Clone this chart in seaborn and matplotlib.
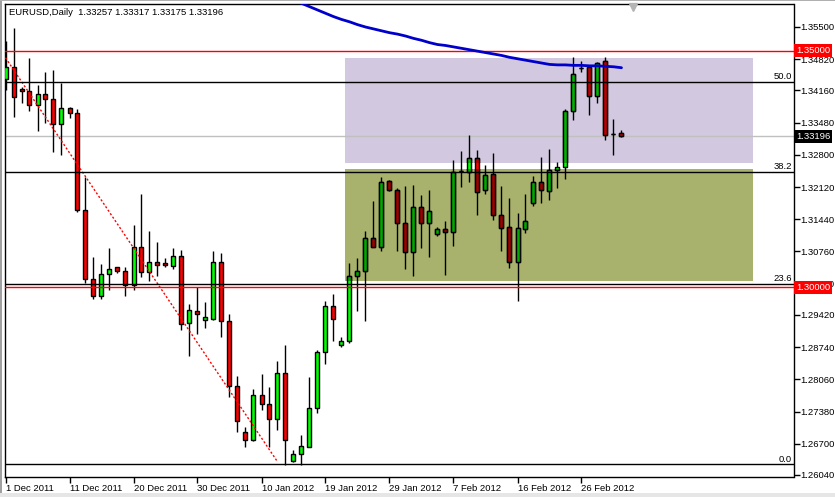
import matplotlib
matplotlib.use("Agg")

import matplotlib.pyplot as plt
import numpy as np
import pandas as pd
import seaborn as sns
from matplotlib.patches import Rectangle


TITLE = "EURUSD,Daily  1.33257 1.33317 1.33175 1.33196"

# daily EURUSD candles, one entry per bar (Sunday bars included)
OPEN = [1.3440, 1.3465, 1.3419, 1.3414, 1.3385, 1.3408, 1.3397, 1.3345, 1.3380, 1.3368,
        1.3163, 1.3017, 1.2983, 1.3028, 1.3043, 1.3034, 1.3005, 1.3085, 1.3033, 1.3053,
        1.3052, 1.3046, 1.3066, 1.2924, 1.2950, 1.2932, 1.2934, 1.3053, 1.2929, 1.2791,
        1.2694, 1.2677, 1.2772, 1.2753, 1.2722, 1.2819, 1.2634, 1.2648, 1.2664, 1.2745,
        1.2863, 1.2960, 1.2878, 1.2886, 1.3024, 1.3034, 1.3104, 1.3086, 1.3224, 1.3205,
        1.3136, 1.3074, 1.3169, 1.3136, 1.3112, 1.3123, 1.3117, 1.3245, 1.3244, 1.3273,
        1.3206, 1.3240, 1.3152, 1.3127, 1.3053, 1.3124, 1.3179, 1.3222, 1.3204, 1.3247,
        1.3254, 1.3372, 1.3464, 1.3465, 1.3405, 1.3478, 1.3325, 1.33257]
HIGH = [1.3520, 1.3547, 1.3424, 1.3485, 1.3428, 1.3454, 1.3460, 1.3432, 1.3381, 1.3376,
        1.3234, 1.3064, 1.3049, 1.3083, 1.3044, 1.3043, 1.3132, 1.3197, 1.3119, 1.3096,
        1.3062, 1.3083, 1.3079, 1.2965, 1.3000, 1.2969, 1.3077, 1.3073, 1.2944, 1.2813,
        1.2706, 1.2786, 1.2817, 1.2790, 1.2845, 1.2879, 1.2657, 1.2688, 1.2810, 1.2868,
        1.2971, 1.2986, 1.2895, 1.3051, 1.3063, 1.3119, 1.3183, 1.3233, 1.3227, 1.3209,
        1.3214, 1.3216, 1.3195, 1.3206, 1.3128, 1.3140, 1.3269, 1.3288, 1.3322, 1.3290,
        1.3259, 1.3284, 1.3215, 1.3189, 1.3158, 1.3197, 1.3235, 1.3276, 1.3292, 1.3265,
        1.3376, 1.3486, 1.3478, 1.3466, 1.3477, 1.3486, 1.3356, 1.33317]
LOW = [1.3417, 1.3361, 1.3389, 1.3373, 1.3330, 1.3348, 1.3287, 1.3280, 1.3357, 1.3159,
       1.3009, 1.2976, 1.2976, 1.2994, 1.3030, 1.2981, 1.2994, 1.3023, 1.3014, 1.3025,
       1.3043, 1.3040, 1.2910, 1.2856, 1.2902, 1.2915, 1.2932, 1.2896, 1.2769, 1.2695,
       1.2664, 1.2676, 1.2741, 1.2663, 1.2698, 1.2625, 1.2632, 1.2625, 1.2663, 1.2734,
       1.2838, 1.2886, 1.2875, 1.2882, 1.2951, 1.2930, 1.3085, 1.3076, 1.3204, 1.3076,
       1.3040, 1.3025, 1.3084, 1.3065, 1.3109, 1.3027, 1.3088, 1.3213, 1.3223, 1.3153,
       1.3197, 1.3142, 1.3078, 1.3042, 1.2971, 1.3114, 1.3171, 1.3179, 1.3185, 1.3209,
       1.3230, 1.3354, 1.3454, 1.3365, 1.3389, 1.3311, 1.3280, 1.33175]
CLOSE = [1.3466, 1.3402, 1.3414, 1.3385, 1.3408, 1.3397, 1.3345, 1.3380, 1.3368, 1.3163,
         1.3017, 1.2983, 1.3028, 1.3040, 1.3034, 1.3005, 1.3085, 1.3033, 1.3053, 1.3048,
         1.3047, 1.3066, 1.2922, 1.2952, 1.2945, 1.2938, 1.3053, 1.2929, 1.2791, 1.2717,
         1.2677, 1.2772, 1.2753, 1.2722, 1.2819, 1.2677, 1.2648, 1.2665, 1.2745, 1.2863,
         1.2960, 1.2933, 1.2886, 1.3024, 1.3034, 1.3104, 1.3086, 1.3222, 1.3205, 1.3136,
         1.3074, 1.3169, 1.3136, 1.3161, 1.3123, 1.3117, 1.3244, 1.3245, 1.3273, 1.3201,
         1.3237, 1.3152, 1.3126, 1.3053, 1.3126, 1.3140, 1.3222, 1.3205, 1.3247, 1.3254,
         1.3373, 1.3450, 1.3464, 1.3405, 1.3475, 1.3323, 1.3325, 1.33196]

# moving average, starts at bar 36 (above the visible range there)
MA_START = 36
MA = [1.3607, 1.3600, 1.3593, 1.3586, 1.3579, 1.3572, 1.3566, 1.3561, 1.3555, 1.3550,
      1.3546, 1.3542, 1.3538, 1.3535, 1.3531, 1.3526, 1.3522, 1.3517, 1.3513, 1.3511,
      1.3508, 1.3505, 1.3502, 1.3499, 1.3496, 1.3493, 1.3490, 1.3486, 1.3483, 1.3480,
      1.3477, 1.3474, 1.3471, 1.3470, 1.3470, 1.3469, 1.3469, 1.3468, 1.3468, 1.3467,
      1.3466, 1.3464]

# fibonacci retracement
FIB_LOW = 1.26266
FIB_HIGH = 1.42420
FIB_LEVELS = [0.0, 23.6, 38.2, 50.0]
TREND_BARS = [0, 34]
TREND_PRICES = [1.3485, 1.2632]

# rectangles: (left bar, right bar, low price, high price)
ZONE_UPPER = (42.4, 93.4, 1.32628, 1.34845)
ZONE_LOWER = (42.5, 93.4, 1.30137, 1.32502)

RED_LEVELS = [1.35000, 1.30000]
BID = 1.33196

PRICE_TICKS = [1.35500, 1.34820, 1.34160, 1.33480, 1.32800, 1.32120, 1.31440, 1.30760,
               1.30080, 1.29420, 1.28740, 1.28060, 1.27380, 1.26700, 1.26040]
DATE_BARS = [0, 8, 16, 24, 32, 40, 48, 56, 64, 72]
DATE_LABELS = ["1 Dec 2011", "11 Dec 2011", "20 Dec 2011", "30 Dec 2011", "10 Jan 2012",
               "19 Jan 2012", "29 Jan 2012", "7 Feb 2012", "16 Feb 2012", "26 Feb 2012"]

W, H = 835, 497


def draw_bodies(ax, df, bull, bear, zorder, clip=None):
    colors = np.where(df["close"] > df["open"], bull, bear)
    bars = ax.bar(
        df["bar"],
        df["top"] - df["bottom"],
        bottom=df["bottom"],
        width=0.5,
        color=colors,
        edgecolor="black",
        linewidth=1,
        zorder=zorder,
    )
    if clip is not None:
        for p in bars.patches:
            p.set_clip_path(clip)


def main():
    sns.set_style("white")
    plt.rcParams["font.family"] = ["Liberation Sans", "DejaVu Sans"]
    plt.rcParams["font.size"] = 6.8

    df = pd.DataFrame({"open": OPEN, "high": HIGH, "low": LOW, "close": CLOSE})
    df["bar"] = np.arange(len(df))
    df["top"] = df[["open", "close"]].max(axis=1)
    df["bottom"] = df[["open", "close"]].min(axis=1)

    fig = plt.figure(figsize=(W / 100, H / 100), dpi=100)
    ax = fig.add_axes([4.5 / W, 20 / H, 789 / W, 473 / H])

    k = 0.0946 / 448
    ax.set_ylim(1.355 - 450 * k, 1.355 + 23 * k)
    ax.set_xlim(-0.125, 98.5)

    # rectangles in the background
    rects = []
    for (x0, x1, y0, y1), fc in [(ZONE_UPPER, "#D2C9E0"), (ZONE_LOWER, "#A8B26C")]:
        r = Rectangle((x0, y0), x1 - x0, y1 - y0, facecolor=fc, edgecolor="none", zorder=0.5)
        ax.add_patch(r)
        rects.append(r)

    # candles
    ax.vlines(df["bar"], df["low"], df["high"], color="black", linewidth=1, zorder=2)
    draw_bodies(ax, df, "#00FF00", "#FF0000", 3)
    draw_bodies(ax, df, "#00B400", "#C00000", 3.1, clip=rects[0])
    draw_bodies(ax, df, "#00A800", "#A00000", 3.1, clip=rects[1])

    # fibonacci lines
    ax.plot(TREND_BARS, TREND_PRICES, color="red", linewidth=1,
            linestyle=(0, (1.5, 1.5)), zorder=4)
    for lvl in FIB_LEVELS:
        price = FIB_LOW + lvl / 100 * (FIB_HIGH - FIB_LOW)
        ax.axhline(price, color="black", linewidth=1, zorder=4)
        ax.annotate(f"{lvl:.1f}", xy=(1, price), xycoords=ax.get_yaxis_transform(),
                    xytext=(-1, 0.5), textcoords="offset points",
                    ha="right", va="bottom", color="black")

    for p in RED_LEVELS:
        ax.axhline(p, color="red", linewidth=1, zorder=4)
    ax.axhline(BID, color="#C0C0C0", linewidth=1, zorder=1)

    # moving average
    ma_bars = np.arange(MA_START, MA_START + len(MA))
    sns.lineplot(x=ma_bars, y=MA, ax=ax, color="#0000CC", linewidth=2, zorder=5)

    # axes styling
    ax.yaxis.tick_right()
    ax.set_yticks(PRICE_TICKS)
    ax.set_yticklabels([f"{t:.5f}" for t in PRICE_TICKS])
    ax.set_xticks(DATE_BARS)
    ax.set_xticklabels(DATE_LABELS)
    for lab in ax.get_xticklabels():
        lab.set_horizontalalignment("left")
    ax.tick_params(axis="y", length=4, width=1, pad=1.2, direction="out",
                   colors="black", right=True, left=False)
    ax.tick_params(axis="x", length=4, width=1, pad=1, direction="out",
                   colors="black", bottom=True)
    for s in ax.spines.values():
        s.set_color("black")
        s.set_linewidth(1)
        s.set_visible(True)
    ax.set_xlabel("")
    ax.set_ylabel("")

    # price labels on the right axis
    for p, fc in [(RED_LEVELS[0], "red"), (RED_LEVELS[1], "red"), (BID, "black")]:
        ax.annotate(f"{p:.5f}", xy=(1, p), xycoords=ax.get_yaxis_transform(),
                    xytext=(2, 0), textcoords="offset points", ha="left", va="center",
                    color="white", annotation_clip=False, zorder=10,
                    bbox=dict(boxstyle="square,pad=0.2", fc=fc, ec="none"))

    # chart shift marker
    ax.plot([78.4], [1 - 3 / 473], marker="v", markersize=6, color="#B4B4B4",
            transform=ax.get_xaxis_transform(), clip_on=False, zorder=6)

    fig.text(9 / W, 1 - 12.7 / H, TITLE, ha="left", va="center", color="black")

    # window border
    fig.add_artist(Rectangle((0, 0), 1.5 / W, 1, transform=fig.transFigure,
                             facecolor="#A0A0A0", edgecolor="none"))
    fig.add_artist(Rectangle((0, 1 - 1 / H), 1, 1 / H, transform=fig.transFigure,
                             facecolor="#B0B0B0", edgecolor="none"))
    fig.add_artist(Rectangle((0, 0), 1, 4 / H, transform=fig.transFigure,
                             facecolor="#E6E6E6", edgecolor="none"))

    fig.savefig("out.png", dpi=100)
    plt.close(fig)


if __name__ == "__main__":
    main()
